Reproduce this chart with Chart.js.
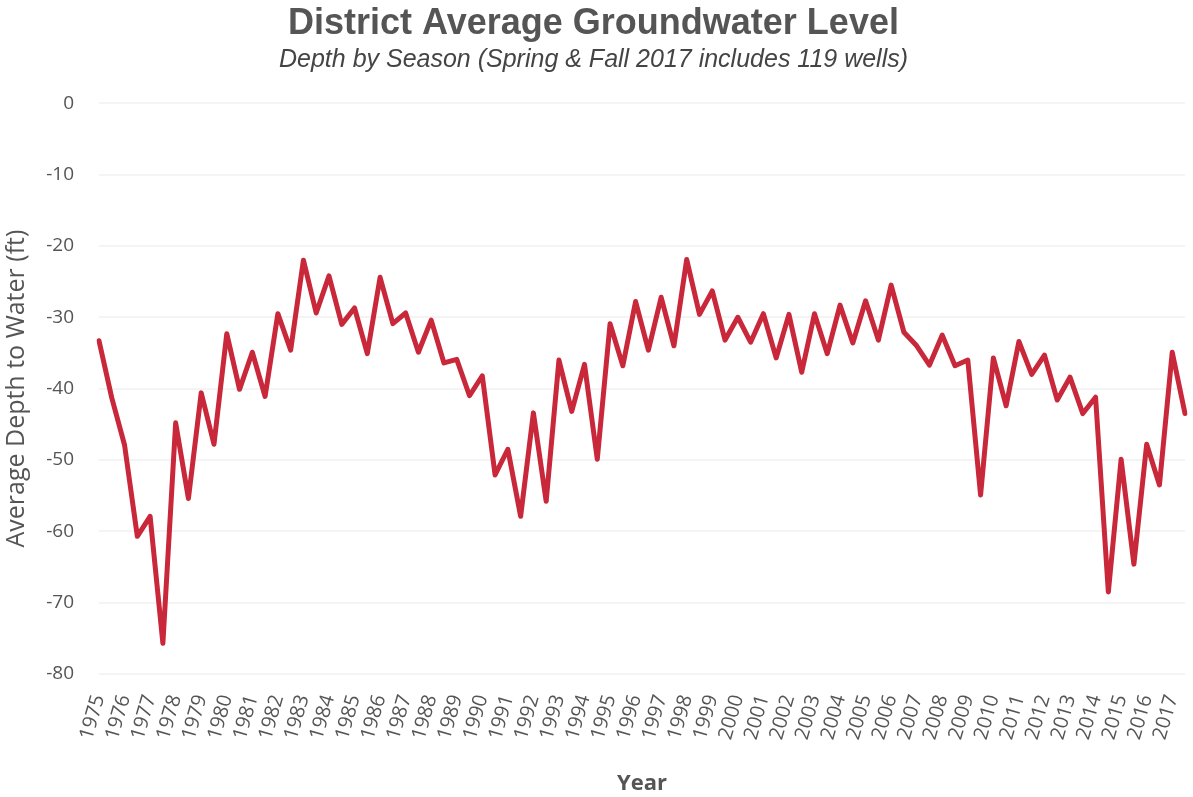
<!DOCTYPE html>
<html>
<head>
<meta charset="utf-8">
<script src="https://cdn.jsdelivr.net/npm/chart.js@4"></script>
<style>
  html, body { margin: 0; padding: 0; background: #fff; }
  #wrap { width: 1193px; height: 797px; }
</style>
</head>
<body>
<div id="wrap"><canvas id="gwChart" width="1193" height="797"></canvas></div>
<script>
// one label per year, two readings per year (spring, fall)
const years = [1975, 1976, 1977, 1978, 1979, 1980, 1981, 1982, 1983, 1984, 1985,
    1986, 1987, 1988, 1989, 1990, 1991, 1992, 1993, 1994, 1995, 1996, 1997, 1998,
    1999, 2000, 2001, 2002, 2003, 2004, 2005, 2006, 2007, 2008, 2009, 2010, 2011,
    2012, 2013, 2014, 2015, 2016, 2017];

const springDepth = [-33.3, -47.9, -57.9, -44.8, -40.6, -32.3, -34.9, -29.5, -22.0, -24.2, -28.7,
    -24.4, -29.4, -30.4, -35.9, -38.2, -48.5, -43.4, -36.0, -36.6, -30.9, -27.8, -27.2, -21.9,
    -26.3, -30.0, -29.5, -29.6, -29.5, -28.3, -27.7, -25.5, -34.0, -32.5, -36.0, -35.7, -33.4,
    -35.3, -38.4, -41.2, -49.9, -47.8, -34.9];

const fallDepth = [-41.3, -60.7, -75.7, -55.4, -47.8, -40.1, -41.1, -34.6, -29.4, -31.0, -35.1,
    -30.9, -34.9, -36.4, -41.0, -52.1, -57.9, -55.8, -43.2, -49.9, -36.8, -34.6, -34.0, -29.6,
    -33.2, -33.5, -35.7, -37.7, -35.1, -33.6, -33.2, -32.1, -36.7, -36.8, -54.9, -42.4, -38.0,
    -41.6, -43.5, -68.5, -64.6, -53.5, -43.5];

const yTicks = [0, -10, -20, -30, -40, -50, -60, -70, -80];

const labels = [];
const depth = [];
years.forEach((year, i) => {
    labels.push(String(year));
    depth.push(springDepth[i]);
    labels.push('');
    depth.push(fallDepth[i]);
});

const textGray = '#555555';
const ctx = document.getElementById('gwChart').getContext('2d');

new Chart(ctx, {
    type: 'line',
    data: {
        labels: labels,
        datasets: [{
            label: 'Average Depth to Water',
            data: depth,
            borderColor: '#c9283a',
            borderWidth: 5,
            pointRadius: 0,
            tension: 0,
            borderJoinStyle: 'round',
            borderCapStyle: 'round'
        }]
    },
    options: {
        responsive: false,
        animation: false,
        layout: { padding: { left: 2, right: 8, top: 0, bottom: 0 } },
        plugins: {
            legend: { display: false },
            tooltip: { enabled: false },
            title: {
                display: true,
                text: 'District Average Groundwater Level',
                color: textGray,
                font: { family: 'Liberation Sans', size: 36, weight: 'bold' },
                padding: { top: 2, bottom: 0 }
            },
            subtitle: {
                display: true,
                text: 'Depth by Season (Spring & Fall 2017 includes 119 wells)',
                color: '#444',
                font: { family: 'Liberation Sans', size: 25, style: 'italic' },
                padding: { top: 0, bottom: 28 }
            }
        },
        scales: {
            x: {
                offset: false,
                grid: { display: false },
                border: { display: false },
                afterFit: function (axis) {
                    // rotated labels would otherwise push the plot in from the sides
                    axis.paddingLeft = 0;
                    axis.paddingRight = 0;
                },
                ticks: {
                    autoSkip: false,
                    minRotation: 74,
                    maxRotation: 74,
                    color: textGray,
                    padding: 10,
                    font: { family: 'Open Sans', size: 20 },
                    callback: function (value, index) {
                        return labels[index];
                    }
                },
                title: {
                    display: true,
                    text: 'Year',
                    color: textGray,
                    font: { family: 'Open Sans', size: 22, weight: 'bold' },
                    padding: { top: 18, bottom: 0 }
                }
            },
            y: {
                min: yTicks[yTicks.length - 1],
                max: yTicks[0],
                grid: { color: '#f4f4f4', lineWidth: 2, drawTicks: false },
                border: { display: false },
                afterBuildTicks: function (axis) {
                    axis.ticks = yTicks.map(v => ({ value: v }));
                },
                afterFit: function (axis) {
                    axis.width = 97;
                },
                ticks: {
                    color: textGray,
                    padding: 25,
                    font: { family: 'Open Sans', size: 19 }
                },
                title: {
                    display: true,
                    text: 'Average Depth to Water (ft)',
                    color: textGray,
                    font: { family: 'Open Sans', size: 25 },
                    padding: { top: 0, bottom: 10 }
                }
            }
        }
    }
});
</script>
</body>
</html>
